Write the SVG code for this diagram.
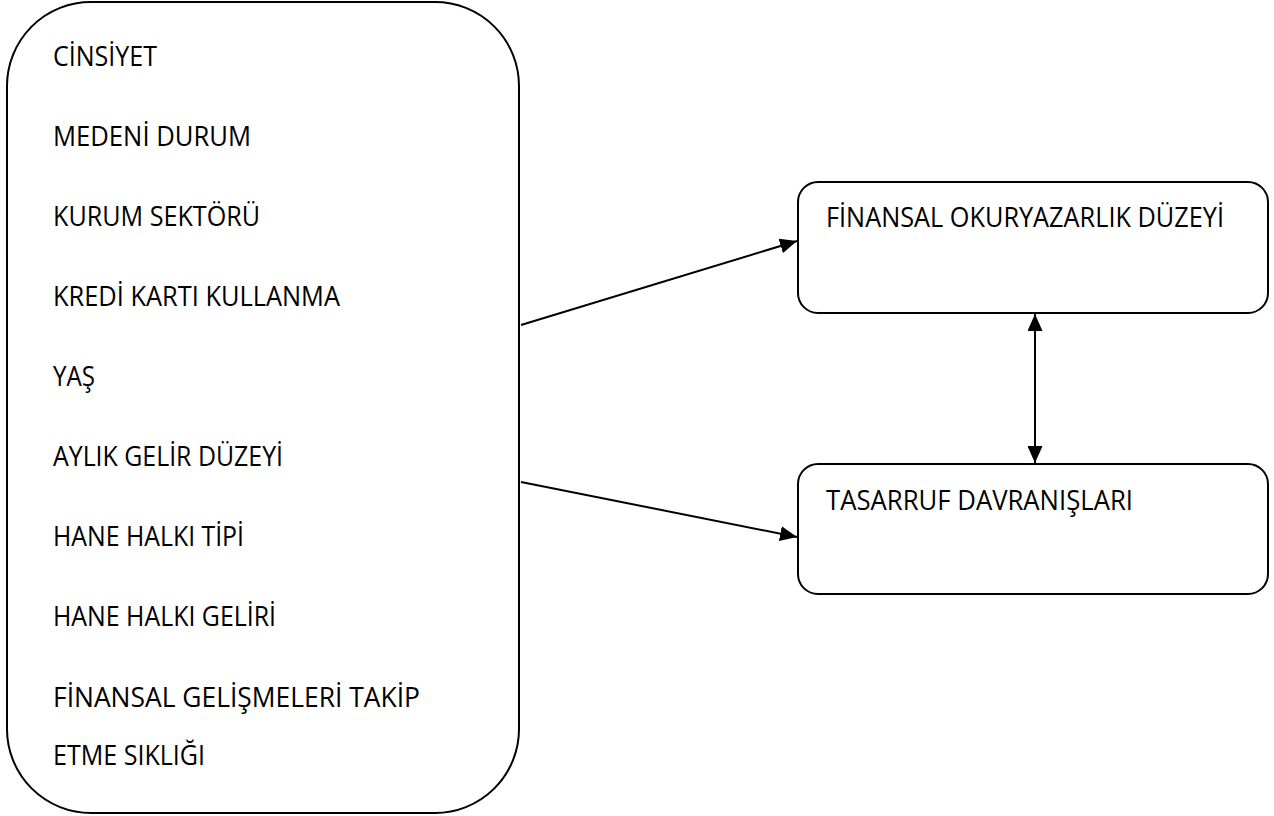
<svg xmlns="http://www.w3.org/2000/svg" width="1274" height="816" viewBox="0 0 1274 816">
<defs>
<style>
.box{fill:#fff;stroke:#000;stroke-width:2}
.t{font-family:"Open Sans","Liberation Sans",sans-serif;font-size:27px;fill:#000}
.c{fill:none;stroke:#000;stroke-width:2}
</style>
<marker id="ah" viewBox="0 0 17 15" refX="17" refY="7.5" markerWidth="17" markerHeight="15" markerUnits="userSpaceOnUse" orient="auto-start-reverse">
<path d="M0,0 L17,7.5 L0,15 Z" fill="#000"/>
</marker>
</defs>
<rect width="1274" height="816" fill="#fff"/>
<g id="factors">
<rect class="box" x="7" y="2" width="512" height="811" rx="84" ry="84"/>
<text class="t" x="53" y="66" textLength="104" lengthAdjust="spacingAndGlyphs">CİNSİYET</text>
<text class="t" x="53" y="146" textLength="198" lengthAdjust="spacingAndGlyphs">MEDENİ DURUM</text>
<text class="t" x="53" y="226" textLength="207" lengthAdjust="spacingAndGlyphs">KURUM SEKTÖRÜ</text>
<text class="t" x="53" y="306" textLength="287" lengthAdjust="spacingAndGlyphs">KREDİ KARTI KULLANMA</text>
<text class="t" x="53" y="386" textLength="42" lengthAdjust="spacingAndGlyphs">YAŞ</text>
<text class="t" x="53" y="466" textLength="230" lengthAdjust="spacingAndGlyphs">AYLIK GELİR DÜZEYİ</text>
<text class="t" x="53" y="546" textLength="191" lengthAdjust="spacingAndGlyphs">HANE HALKI TİPİ</text>
<text class="t" x="53" y="626" textLength="223" lengthAdjust="spacingAndGlyphs">HANE HALKI GELİRİ</text>
<text class="t" x="53" y="707" textLength="367" lengthAdjust="spacingAndGlyphs">FİNANSAL GELİŞMELERİ TAKİP</text>
<text class="t" x="53" y="765" textLength="152" lengthAdjust="spacingAndGlyphs">ETME SIKLIĞI</text>
</g>
<g id="literacy">
<rect class="box" x="798" y="182" width="470" height="131" rx="20" ry="20"/>
<text class="t" x="826" y="227" textLength="398" lengthAdjust="spacingAndGlyphs">FİNANSAL OKURYAZARLIK DÜZEYİ</text>
</g>
<g id="saving">
<rect class="box" x="798" y="464" width="470" height="130" rx="20" ry="20"/>
<text class="t" x="826" y="510" textLength="307" lengthAdjust="spacingAndGlyphs">TASARRUF DAVRANIŞLARI</text>
</g>
<g id="connectors">
<line class="c" x1="521" y1="325" x2="797" y2="241" marker-end="url(#ah)"/>
<line class="c" x1="521" y1="482" x2="797" y2="537" marker-end="url(#ah)"/>
<line class="c" x1="1035" y1="314" x2="1035" y2="463" marker-start="url(#ah)" marker-end="url(#ah)"/>
</g>
</svg>
